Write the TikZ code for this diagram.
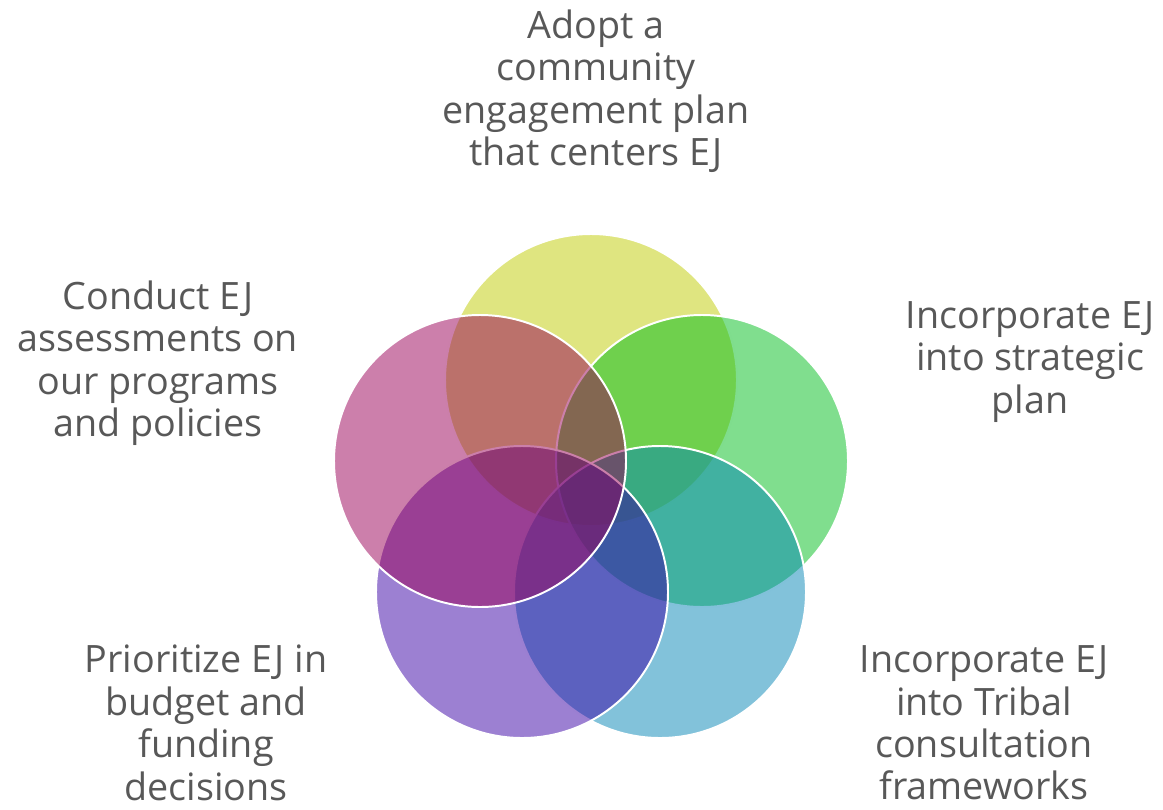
\documentclass[tikz,border=0pt]{standalone}
\usepackage{fontspec}
\setmainfont{Open Sans}
\definecolor{adoptcol}{RGB}{191,203,1}
\definecolor{strategycol}{RGB}{1,189,29}
\definecolor{tribalcol}{RGB}{5,133,181}
\definecolor{budgetcol}{RGB}{57,1,165}
\definecolor{assesscol}{RGB}{153,0,87}
\definecolor{textgray}{RGB}{88,88,88}

\begin{document}
\begin{tikzpicture}[x = 0.025cm, y = -0.025cm,
    petal/.style = {draw = white, line width = 1.4pt, fill opacity = 0.5},
    goaltext/.style = {align = center, text = textgray, inner sep = 0pt,
        font = \fontsize{26.8}{30.2}\selectfont}]%
    \useasboundingbox (0, 0) rectangle (1163, 809);
    % five overlapping circles
    \fill[petal, fill = adoptcol] (591, 380) circle (146);
    \fill[petal, fill = strategycol] (702, 461) circle (146);
    \fill[petal, fill = tribalcol] (660, 592) circle (146);
    \fill[petal, fill = budgetcol] (522, 592) circle (146);
    \fill[petal, fill = assesscol] (480, 461) circle (146);
    % texts
    \node[goaltext] (adopt) at (596, 91) {Adopt a\\community\\engagement plan\\that centers EJ};
    \node[goaltext] (assess) at (158, 363) {Conduct EJ\\assessments on\\our programs\\and policies};
    \node[goaltext] (strategy) at (1030, 362) {Incorporate EJ\\into strategic\\plan};
    \node[goaltext] (budget) at (206, 723) {Prioritize EJ in\\budget and\\funding\\decisions};
    \node[goaltext] (tribal) at (984, 723) {Incorporate EJ\\into Tribal\\consultation\\frameworks};
\end{tikzpicture}
\end{document}
